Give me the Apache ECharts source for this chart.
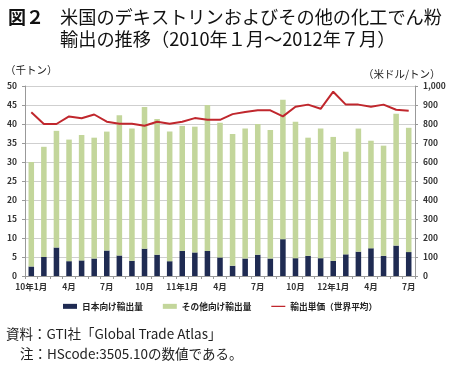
<!DOCTYPE html>
<html>
<head>
<meta charset="utf-8">
<script src="https://cdn.jsdelivr.net/npm/echarts@6/dist/echarts.min.js"></script>
<style>
html,body{margin:0;padding:0;background:#fff;}
#main{width:450px;height:366px;}
</style>
</head>
<body>
<div id="main"></div>
<script>
const months = ['10年1月','2月','3月','4月','5月','6月','7月','8月','9月','10月','11月','12月',
  '11年1月','2月','3月','4月','5月','6月','7月','8月','9月','10月','11月','12月',
  '12年1月','2月','3月','4月','5月','6月','7月'];
const japanExports = [2.5,5.0,7.5,3.9,4.1,4.6,6.7,5.4,4.0,7.2,5.6,3.9,6.6,6.2,6.6,4.9,2.7,4.6,5.6,4.6,9.7,4.7,5.3,4.7,4.0,5.7,6.4,7.3,5.3,8.0,6.3];
const otherExports = [27.5,29.0,30.7,32.0,33.0,31.8,31.3,36.9,34.8,37.3,35.7,34.1,32.9,33.1,38.4,35.4,34.7,34.2,34.4,33.8,36.7,35.9,31.1,34.1,32.6,27.0,32.4,28.3,29.0,34.7,32.7];
const unitPrice = [862,800,800,840,830,850,812,801,801,791,812,801,812,831,822,822,852,863,872,872,840,891,902,880,970,902,902,891,902,875,870];
const seriesNames = ['日本向け輸出量','その他向け輸出量','輸出単価（世界平均）'];

const FONT = '"Noto Sans CJK JP", "Noto Sans", sans-serif';
const chart = echarts.init(document.getElementById('main'));
const axisLabelStyle = {fontSize: 8.5, fontWeight: 'bold', color: '#333', fontFamily: FONT};
const lineIcon = 'path://M0,0L0.01,0L0.01,0.01L0,0.01ZM0,1.5L20,1.5L20,3.5L0,3.5ZM19.99,4.99L20,4.99L20,5L19.99,5Z';

chart.setOption({
  animation: false,
  backgroundColor: '#fff',
  textStyle: {fontFamily: FONT},
  title: [
    {text: '図２', left: 3, top: 3, textStyle: {fontSize: 18, fontWeight: 'bold', color: '#111', fontFamily: FONT}},
    {text: '米国のデキストリンおよびその他の化工でん粉', left: 55, top: 3, textStyle: {fontSize: 18.2, fontWeight: 'normal', color: '#111', fontFamily: FONT}},
    {text: '輸出の推移（2010年１月～2012年７月）', left: 55, top: 25, textStyle: {fontSize: 18.2, fontWeight: 'normal', color: '#111', fontFamily: FONT}},
    {text: '（千トン）', left: 0, top: 60, textStyle: {fontSize: 10.5, fontWeight: 'normal', color: '#222', fontFamily: FONT}},
    {text: '（米ドル/トン）', left: 358, top: 64, textStyle: {fontSize: 10.5, fontWeight: 'normal', color: '#222', fontFamily: FONT}},
    {text: '資料：GTI社「Global Trade Atlas」', left: 1, top: 322, textStyle: {fontSize: 13.5, fontWeight: 'normal', color: '#222', fontFamily: FONT}},
    {text: '注：HScode:3505.10の数値である。', left: 15, top: 342, textStyle: {fontSize: 13.5, fontWeight: 'normal', color: '#222', fontFamily: FONT}}
  ],
  legend: {
    left: 58, top: 297,
    itemWidth: 14, itemHeight: 5, itemGap: 20,
    textStyle: {fontSize: 8.7, fontWeight: 'bold', color: '#222', fontFamily: FONT},
    data: [
      {name: seriesNames[0], icon: 'rect'},
      {name: seriesNames[1], icon: 'rect'},
      {name: seriesNames[2], icon: lineIcon}
    ]
  },
  grid: {left: 25, right: 35, top: 86, bottom: 90, containLabel: false},
  xAxis: {
    type: 'category',
    data: months,
    axisLine: {lineStyle: {color: '#999', width: 1}},
    axisTick: {show: true, length: 3, interval: 0, lineStyle: {color: '#999'}},
    axisLabel: Object.assign({interval: 2, margin: 7}, axisLabelStyle)
  },
  yAxis: [
    {
      type: 'value', min: 0, max: 50, interval: 5,
      axisLine: {show: true, lineStyle: {color: '#999'}},
      axisTick: {show: true, length: 3, lineStyle: {color: '#999'}},
      axisLabel: Object.assign({margin: 8}, axisLabelStyle),
      splitLine: {show: true, lineStyle: {color: '#cfcfcf', width: 1}}
    },
    {
      type: 'value', min: 0, max: 1000, interval: 100,
      axisLine: {show: true, lineStyle: {color: '#999'}},
      axisTick: {show: true, length: 3, lineStyle: {color: '#999'}},
      axisLabel: Object.assign({margin: 8, formatter: v => v.toLocaleString('en-US')}, axisLabelStyle),
      splitLine: {show: false}
    }
  ],
  series: [
    {name: seriesNames[0], type: 'bar', stack: 'vol', data: japanExports, barWidth: '44%',
     itemStyle: {color: '#1f2b52'}},
    {name: seriesNames[1], type: 'bar', stack: 'vol', data: otherExports, barWidth: '44%',
     itemStyle: {color: '#c3d69b'}},
    {name: seriesNames[2], type: 'line', yAxisIndex: 1, data: unitPrice, symbol: 'none',
     lineStyle: {color: '#c0272d', width: 2}, itemStyle: {color: '#c0272d'}}
  ]
});
</script>
</body>
</html>
